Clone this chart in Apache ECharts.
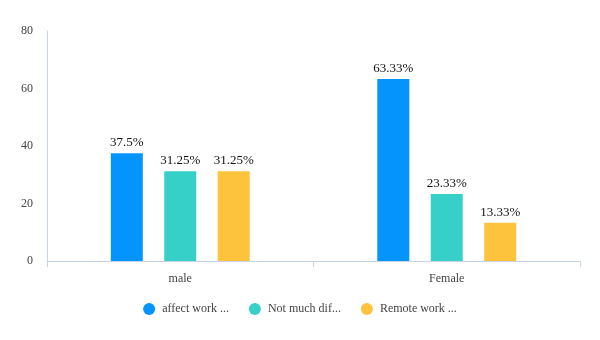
<!DOCTYPE html>
<html>
<head>
<meta charset="utf-8">
<script src="https://cdn.jsdelivr.net/npm/echarts@6/dist/echarts.min.js"></script>
<style>
  html, body { margin: 0; padding: 0; background: #fff; }
  #chart { width: 600px; height: 340px; }
</style>
</head>
<body>
<div id="chart"></div>
<script>
// Groups along the x axis
var categories = ['male', 'Female'];
// Series names shown in the legend
var seriesNames = ['affect work ...', 'Not much dif...', 'Remote work ...'];
// Percent values per series, one entry per group
var affectWork = [37.5, 63.33];
var notMuchDiff = [31.25, 23.33];
var remoteWork = [31.25, 13.33];
// Y axis ticks
var yTicks = [0, 20, 40, 60, 80];

var colors = ['#0494fc', '#37d0c8', '#fec33d'];
var values = [affectWork, notMuchDiff, remoteWork];
var font = '"Liberation Serif", "Times New Roman", serif';

var chart = echarts.init(document.getElementById('chart'));
chart.setOption({
  animation: false,
  textStyle: { fontFamily: font },
  grid: { left: 47, right: 20, top: 31, bottom: 79, containLabel: false },
  legend: {
    bottom: 20,
    left: 'center',
    icon: 'circle',
    itemWidth: 16,
    itemHeight: 12,
    itemGap: 20,
    textStyle: { fontFamily: font, fontSize: 12, color: '#444' },
    data: seriesNames
  },
  xAxis: {
    type: 'category',
    data: categories,
    axisLine: { lineStyle: { color: '#c7d3e8' } },
    axisTick: { show: true, length: 6, lineStyle: { color: '#c7d3e8' } },
    axisLabel: { fontFamily: font, fontSize: 12, color: '#444', margin: 12 }
  },
  yAxis: {
    type: 'value',
    min: yTicks[0],
    max: yTicks[yTicks.length - 1],
    interval: yTicks[1] - yTicks[0],
    axisLine: { show: true, lineStyle: { color: '#c7d3e8' } },
    axisTick: { show: false },
    splitLine: { show: false },
    axisLabel: { fontFamily: font, fontSize: 12, color: '#444', margin: 14 }
  },
  series: seriesNames.map(function (name, i) {
    return {
      name: name,
      type: 'bar',
      data: values[i],
      barWidth: 32,
      barGap: '67%',
      itemStyle: { color: colors[i] },
      label: {
        show: true,
        position: 'top',
        distance: 4,
        fontFamily: font,
        fontSize: 13,
        color: '#111',
        formatter: function (p) { return p.value + '%'; }
      }
    };
  })
});
</script>
</body>
</html>
